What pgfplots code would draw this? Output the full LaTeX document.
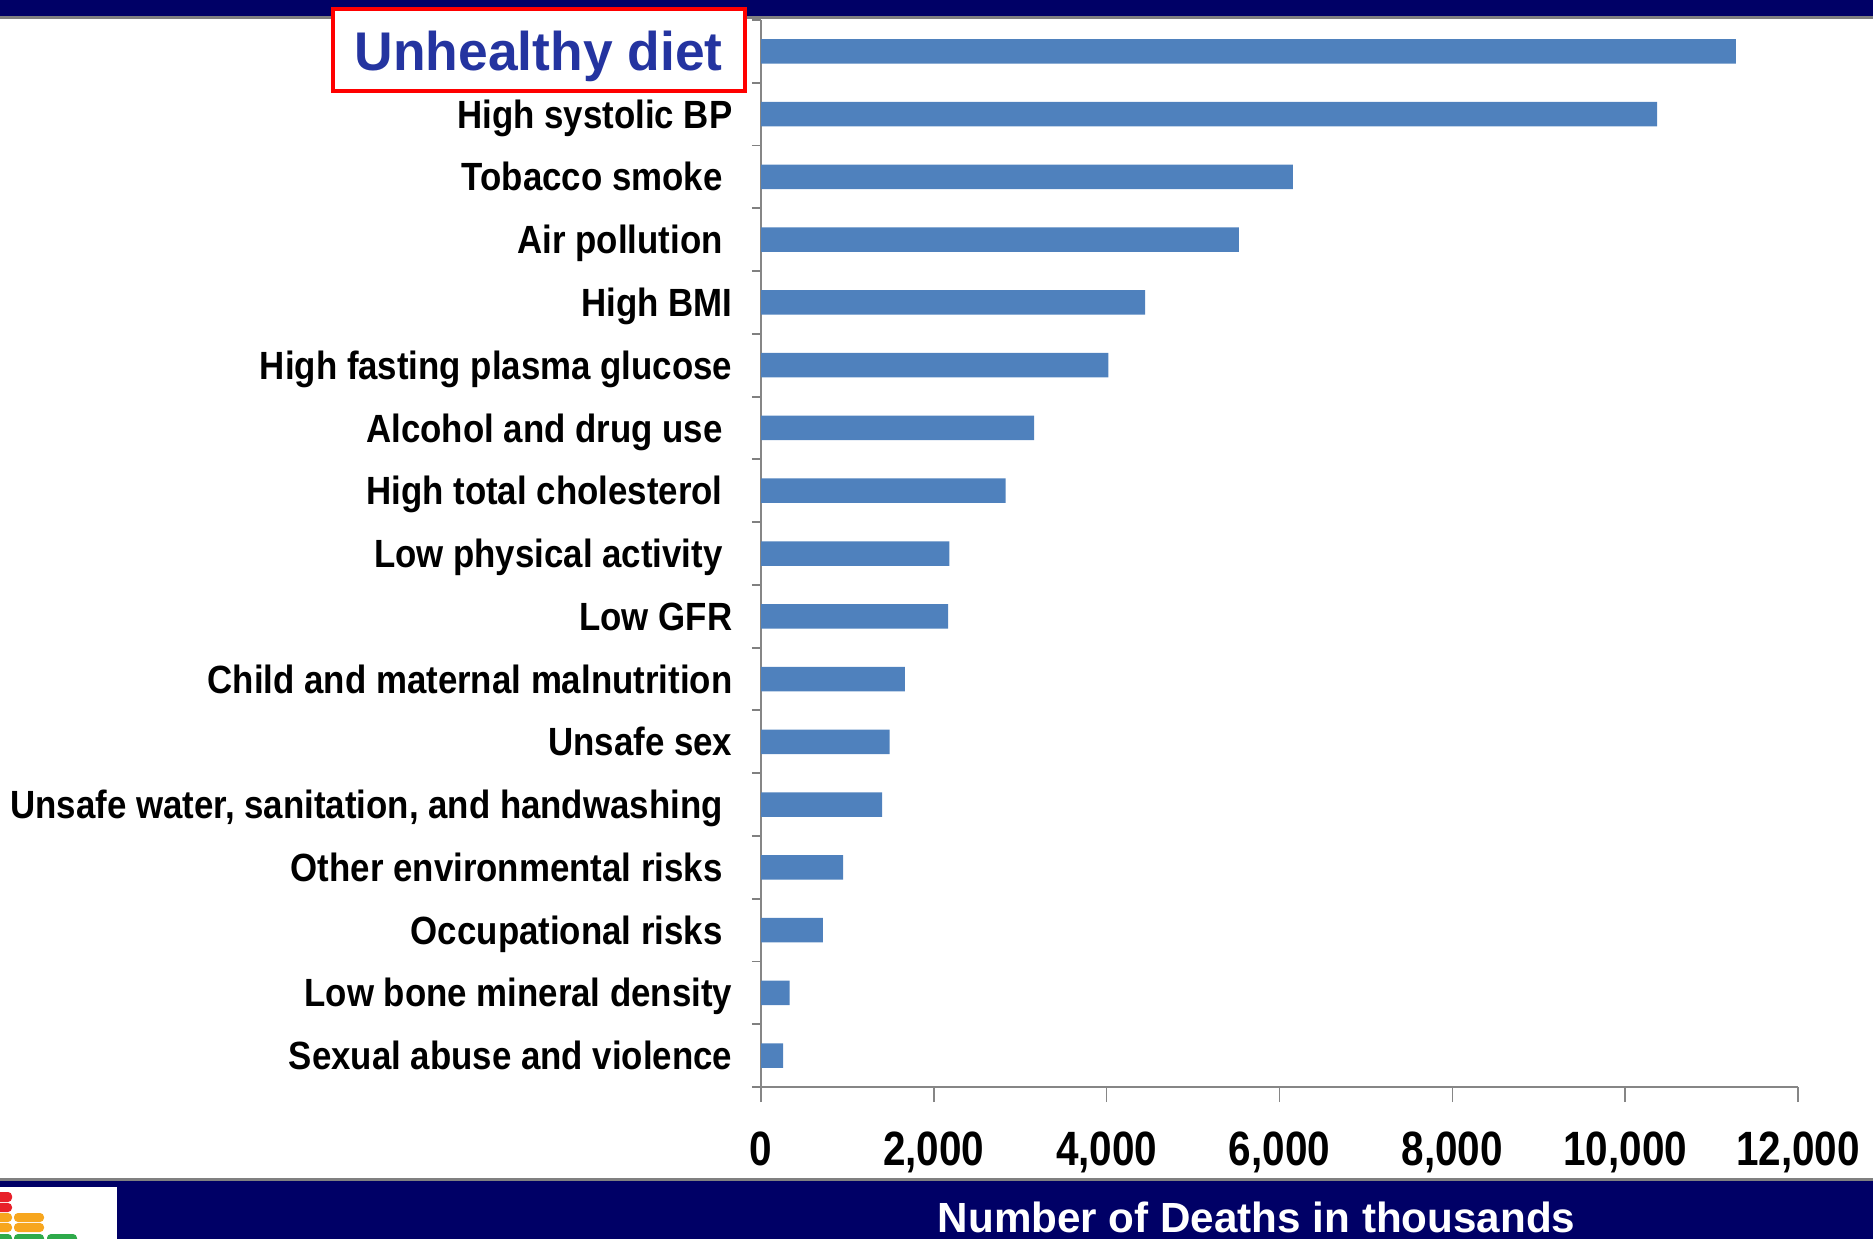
\documentclass[border=0pt]{standalone}
\usepackage{fontspec}
\setmainfont{Liberation Sans}
\newfontfamily\labfont{Liberation Sans}[FakeStretch=0.885]
\newfontfamily\dietfont{Liberation Sans}[FakeStretch=0.98]
\newfontfamily\numfont{Liberation Sans}[FakeStretch=0.84]
\usepackage{pgfplots}
\pgfplotsset{compat=1.18}

\definecolor{band}{RGB}{0,0,102}
\definecolor{rulegray}{RGB}{128,128,128}
\definecolor{axisgray}{RGB}{134,134,134}
\definecolor{barblue}{RGB}{79,129,189}
\definecolor{diet}{RGB}{36,52,160}
\definecolor{logored}{RGB}{232,32,42}
\definecolor{logoorange}{RGB}{247,166,30}
\definecolor{logogreen}{RGB}{46,170,74}

\newcommand{\tsp}{\hspace*{0.97mm}}

\begin{document}
\begin{tikzpicture}
\path[use as bounding box] (0,0) rectangle (187.3mm,-123.9mm);
\clip (0,0) rectangle (187.3mm,-123.9mm);

% header and footer bands, logo, highlight frame (units of 0.1 mm, y downward)
\begin{scope}[x=0.1mm,y=-0.1mm]
  \fill[band] (0,0) rectangle (1873,16.5);
  \fill[rulegray] (0,16.5) rectangle (1873,19.5);
  \fill[rulegray] (0,1177.5) rectangle (1873,1181);
  \fill[band] (0,1181) rectangle (1873,1239);
  \fill[white] (0,1187) rectangle (117,1239);
  \begin{scope}[rounded corners=0.4mm]
    \fill[logored] (-4,1192) rectangle (12,1202);
    \fill[logored] (-4,1203) rectangle (12,1212);
    \fill[logoorange] (-4,1213) rectangle (12,1222);
    \fill[logoorange] (-4,1223) rectangle (12,1232);
    \fill[logoorange] (14,1213) rectangle (44,1222);
    \fill[logoorange] (14,1223) rectangle (44,1232);
    \fill[logogreen] (-4,1234) rectangle (12,1246);
    \fill[logogreen] (14,1234) rectangle (44,1246);
    \fill[logogreen] (47,1234) rectangle (77,1246);
  \end{scope}
  \draw[red, line width=0.43mm, fill=white] (333.2,9.2) rectangle (744.8,90.8);
\end{scope}

\begin{axis}[
  at={(76.1mm,-108.7mm)}, anchor=south west,
  width=103.7mm, height=106.7mm, scale only axis,
  xbar, bar width=2.45mm,
  xmin=0, xmax=12000, ymin=-0.5, ymax=16.5, y dir=reverse,
  axis x line*=bottom, axis y line*=left,
  axis line style={axisgray, line width=0.18mm, -},
  tick align=outside, major tick length=0.9mm,
  tick style={rulegray, line width=0.19mm},
  xtick=\empty,
  extra x ticks={0,2000,4000,6000,8000,10000,12000},
  extra x tick labels={0,{2,000},{4,000},{6,000},{8,000},{10,000},{12,000}},
  extra x tick style={major tick length=1.5mm,
    tick style={axisgray, line width=0.15mm},
    xticklabel style={font=\numfont\bfseries\fontsize{13.7}{16}\selectfont,
      anchor=base, inner sep=0pt, yshift=-6.3mm}},
  ytick={-0.5,0.5,...,16.5}, yticklabel=\empty,
  extra y ticks={0,1,...,16},
  extra y tick labels={
    {\raisebox{-1.55pt}{\dietfont\color{diet}\fontsize{15.5}{18}\selectfont Unhealthy diet}\tsp},
    {High systolic BP},
    {Tobacco smoke\tsp},
    {Air pollution\tsp},
    {High BMI},
    {High fasting plasma glucose},
    {Alcohol and drug use\tsp},
    {High total cholesterol\tsp},
    {Low physical activity\tsp},
    {Low GFR},
    {Child and maternal malnutrition},
    {Unsafe sex},
    {Unsafe water, sanitation, and handwashing\tsp},
    {Other environmental risks\tsp},
    {Occupational risks\tsp},
    {Low bone mineral density},
    {Sexual abuse and violence}},
  extra y tick style={major tick length=0pt,
    yticklabel style={font=\labfont\bfseries\fontsize{11.2}{13}\selectfont,
      anchor=base east, inner sep=0pt, xshift=-2.8mm, yshift=-4.0pt}},
  clip=false,
]
\addplot[fill=barblue, draw=none] coordinates {
  (11280,0) (10370,1) (6155,2) (5530,3) (4445,4) (4020,5) (3160,6)
  (2830,7) (2180,8) (2165,9) (1665,10) (1487,11) (1403,12) (950,13)
  (715,14) (330,15) (257,16)};
\end{axis}

\node[anchor=base, inner sep=0pt, text=white,
  font=\bfseries\fontsize{12}{14}\selectfont] at (125.66mm,-123.2mm)
  {Number of Deaths in thousands};
\end{tikzpicture}
\end{document}
